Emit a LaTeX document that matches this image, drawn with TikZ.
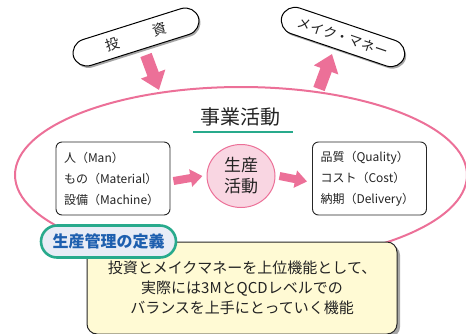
\documentclass[tikz,border=0pt]{standalone}
\usepackage{fontspec}
\setmainfont{Noto Sans CJK JP}
\usetikzlibrary{arrows.meta,shadows,shapes.geometric}
\definecolor{mypink}{RGB}{236,112,152}
\definecolor{mypinkfill}{RGB}{249,214,226}
\definecolor{myteal}{RGB}{40,170,140}
\definecolor{mylav}{RGB}{232,236,246}
\definecolor{myblue}{RGB}{30,95,175}
\definecolor{myyellow}{RGB}{255,250,212}
\definecolor{mytext}{RGB}{35,35,35}
\tikzset{
  pill/.style={draw=black, line width=1pt, fill=white, rounded corners=14pt,
    minimum height=27pt, inner sep=0pt, text=mytext,
    drop shadow={shadow xshift=1.5pt, shadow yshift=-2pt, fill=gray!70, opacity=1}},
  bigarrow/.style={mypink, line width=12pt,
    -{Triangle[length=17pt,width=25pt]}},
  smallarrow/.style={mypink, line width=8pt,
    -{Triangle[length=12pt,width=17pt]}},
  listbox/.style={draw=black!85, line width=0.9pt, rounded corners=6pt,
    minimum width=114pt, minimum height=73pt, text=mytext, align=left,
    font=\fontsize{12}{21}\selectfont, inner sep=0pt}
}
\begin{document}
\begin{tikzpicture}[x=1pt,y=-1pt]
\useasboundingbox (0,0) rectangle (466,333);
\begin{scope}
\clip (0,0) rectangle (466,333);
\draw[mypink, line width=2pt] (241,175) ellipse [x radius=226, y radius=88];
\end{scope}

% pills
\node[pill, minimum width=131pt, rotate=17.5, font=\fontsize{14}{14}\selectfont] (inv) at (136,37) {投\hspace{2.5em}資};
\node[pill, minimum width=129pt, rotate=-18.7, font=\fontsize{13.5}{14}\selectfont] (mm) at (343,37) {メイク・マネー};

% big arrows
\coordinate (a1s) at (146,55);
\coordinate (a1e) at (159,90);
\draw[bigarrow] (a1s) -- (a1e);
\coordinate (a2s) at (319,89);
\coordinate (a2e) at (332,54);
\draw[bigarrow] (a2s) -- (a2e);

% title
\node[text=mytext, font=\fontsize{20}{20}\selectfont, inner sep=0pt] (title) at (240,117) {事業活動};
\coordinate (ul1) at (193,132);
\coordinate (ul2) at (293,132);
\draw[myteal, line width=1.6pt] (ul1) -- (ul2);

% boxes
\node[listbox, text width=98pt] (left) at (113,178.5) {人（Man）\\もの（Material）\\設備（Machine）};
\node[listbox, text width=98pt] (right) at (369.5,178.5) {品質（Quality）\\コスト（Cost）\\納期（Delivery）};

\node[draw=mypink, line width=1pt, fill=mypinkfill, ellipse, minimum width=68pt, minimum height=63pt, inner sep=0pt, align=center, text=mytext, font=\fontsize{17}{21}\selectfont] (prod) at (241,176) {生産\\活動};

\draw[smallarrow] ([xshift=3pt,yshift=-2.5pt]left.east) -- ([xshift=-4pt]prod.west);
\draw[smallarrow] ([xshift=4pt]prod.east) -- ([xshift=-5pt,yshift=-3pt]right.west);

% definition box
\node[draw=black!85, line width=1pt, fill=myyellow, rounded corners=10pt,
  minimum width=310pt, minimum height=92pt, inner sep=0pt,
  drop shadow={shadow xshift=3pt, shadow yshift=-3pt, fill=gray!70, opacity=1},
  align=center, text=mytext, font=\fontsize{15}{20}\selectfont] (def) at (242,288)
  {投資とメイクマネーを上位機能として、\\実際には3MとQCDレベルでの\\バランスを上手にとっていく機能};

\node[draw=myteal, line width=2.6pt, fill=mylav, rounded corners=16pt,
  minimum width=135pt, minimum height=32pt, inner sep=0pt,
  text=myblue, font=\fontsize{16}{16}\selectfont\bfseries] (lab) at (108.5,241.5) {生産管理の定義};
\end{tikzpicture}
\end{document}
